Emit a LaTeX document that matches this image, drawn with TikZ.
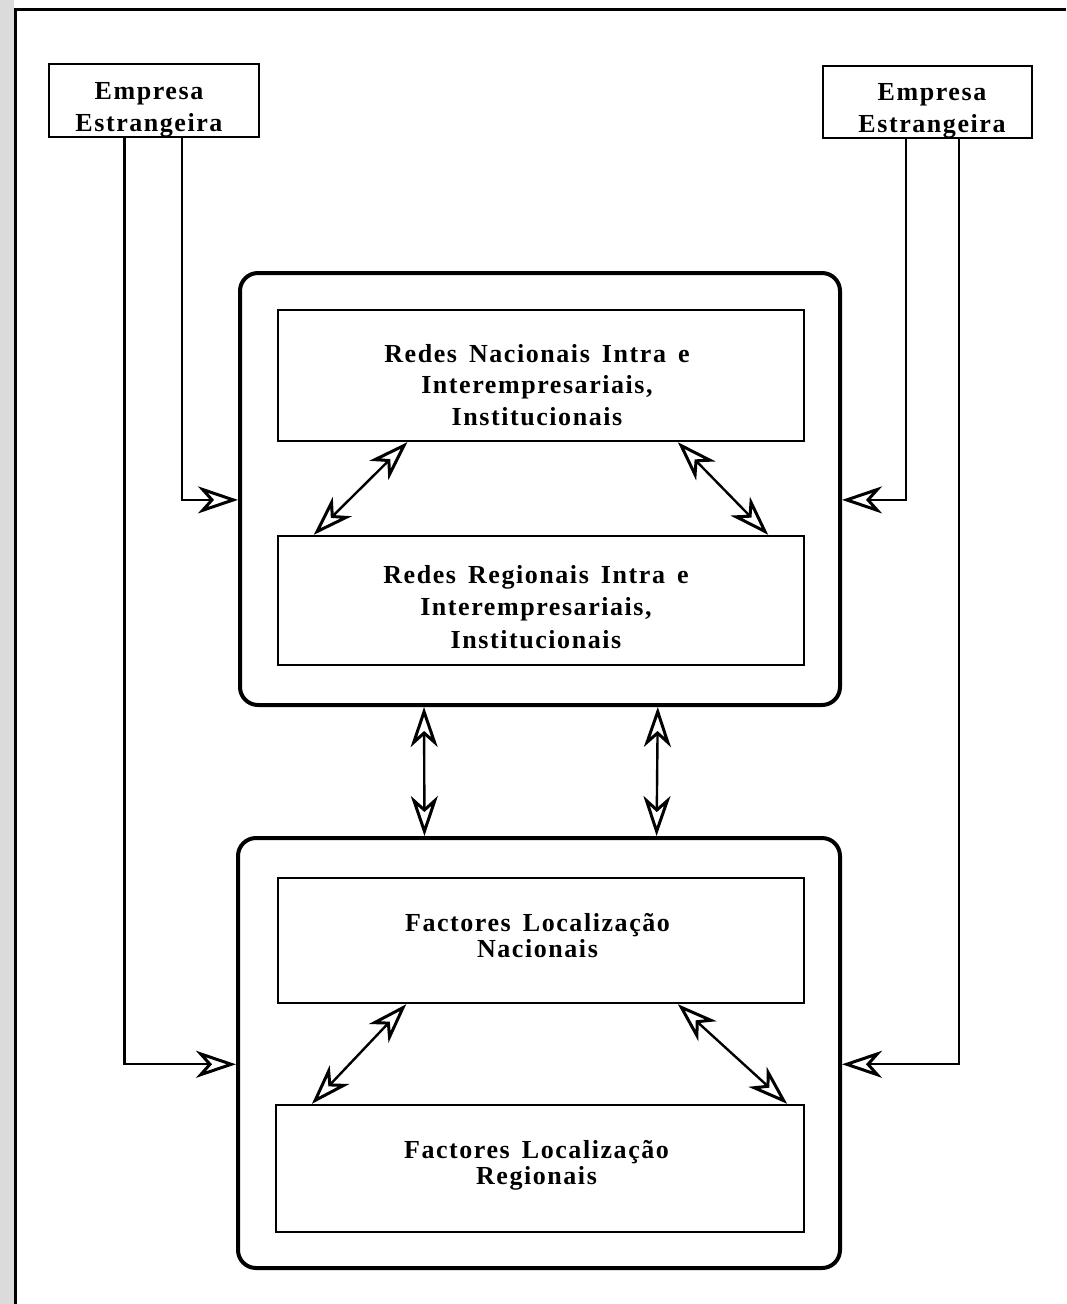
\documentclass[tikz,border=0pt]{standalone}
\usepackage{fontspec}
\setmainfont{Liberation Serif}
\newfontfamily\labfont[LetterSpace=6,WordSpace=1.5]{Liberation Serif}
\usetikzlibrary{arrows.meta,calc}

\begin{document}
\begin{tikzpicture}[x=1pt,y=-1pt,
  >={Stealth[open,length=40pt,width=27pt,inset=12pt,line width=3pt]},
  box/.style={draw,line width=2.4pt,inner sep=0pt},
  panel/.style={draw,line width=4pt,rounded corners=18pt,inner sep=0pt},
  lbl/.style={font=\labfont\bfseries\fontsize{26}{31.5}\selectfont,align=center,inner sep=0pt},
  lblb/.style={font=\labfont\bfseries\fontsize{26}{26}\selectfont,align=center,inner sep=0pt},
  link/.style={line width=2.4pt},
  twoway/.style={line width=2.4pt,<->}]

  % page extent and scan frame
  \useasboundingbox (0,0) rectangle (1066,1304);
  \fill[gray!28] (0,0) rectangle (13.5,1304);
  \draw[line width=3pt] (15,1304) -- (15,9.5) -- (1066,9.5);

  % foreign firms
  \node[box,minimum width=210pt,minimum height=73pt] (eL) at (154,100.5) {};
  \node[lbl] (eLt) at (149,110) {Empresa\\Estrangeira};
  \node[box,minimum width=209pt,minimum height=72pt] (eR) at (927.5,102) {};
  \node[lbl] (eRt) at (932,111) {Empresa\\Estrangeira};

  % upper panel: networks
  \node[panel,minimum width=600pt,minimum height=432pt] (o1) at (540,489) {};
  \node[box,minimum width=526pt,minimum height=131pt] (rn) at (541,375.5) {};
  \node[lbl] (rnt) at (537,385) {Redes Nacionais Intra e\\Interempresariais,\\Institucionais};
  \node[box,minimum width=526pt,minimum height=129pt] (rr) at (541,600.5) {};
  \node[lbl,font=\labfont\bfseries\fontsize{26}{32.5}\selectfont] (rrt) at (536,607) {Redes Regionais Intra e\\Interempresariais,\\Institucionais};

  % lower panel: location factors
  \node[panel,minimum width=602pt,minimum height=430pt] (o2) at (539,1053) {};
  \node[box,minimum width=526pt,minimum height=125pt] (fn) at (541,940.5) {};
  \node[lblb] (fnt) at (537.5,935.5) {Factores Localização\\Nacionais};
  \node[box,minimum width=528pt,minimum height=127pt] (fr) at (540,1168.5) {};
  \node[lblb] (frt) at (536.5,1165) {Factores Localização\\Regionais};

  % foreign firms feeding both panels
  \draw[link,->] ($(eL.south west)!0.633!(eL.south east)$) |- ($(o1.north west)!0.525!(o1.south west)$);
  \draw[link,->] ($(eL.south west)!0.362!(eL.south east)$) |- ($(o2.north west)!0.526!(o2.south west)$);
  \draw[link,->] ($(eR.south west)!0.397!(eR.south east)$) |- ($(o1.north east)!0.525!(o1.south east)$);
  \draw[link,->] ($(eR.south west)!0.650!(eR.south east)$) |- ($(o2.north east)!0.526!(o2.south east)$);

  % exchanges inside the panels
  \draw[twoway] ($(rr.north west)!0.070!(rr.north east)$) -- ($(rn.south west)!0.247!(rn.south east)$);
  \draw[twoway] ($(rn.south west)!0.759!(rn.south east)$) -- ($(rr.north west)!0.930!(rr.north east)$);
  \draw[twoway] ($(fr.north west)!0.070!(fr.north east)$) -- ($(fn.south west)!0.245!(fn.south east)$);
  \draw[twoway] ($(fn.south west)!0.759!(fn.south east)$) -- ($(fr.north west)!0.966!(fr.north east)$);

  % exchanges between the panels
  \draw[twoway] ($(o1.south west)!0.308!(o1.south east)$) -- ($(o2.north west)!0.311!(o2.north east)$);
  \draw[twoway] ($(o1.south west)!0.695!(o1.south east)$) -- ($(o2.north west)!0.694!(o2.north east)$);
\end{tikzpicture}
\end{document}
